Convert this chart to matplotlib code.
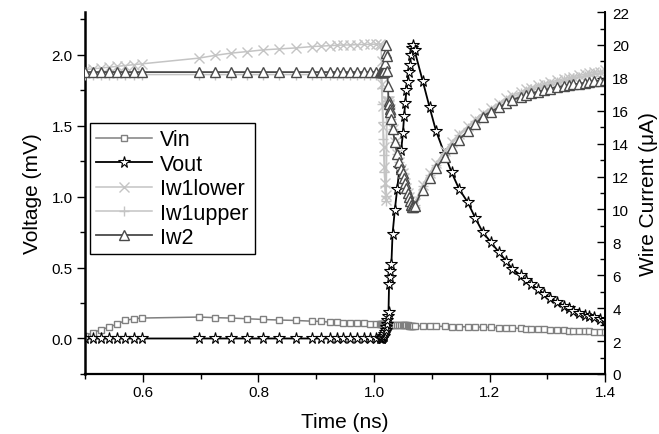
import matplotlib
matplotlib.use("Agg")
import matplotlib.pyplot as plt
from matplotlib.ticker import MultipleLocator, FormatStrFormatter

plt.rcParams['font.family'] = ['Liberation Sans', 'DejaVu Sans']

# time points (ns), shared by all traces
time = [0.500, 0.514, 0.528, 0.542, 0.556, 0.570, 0.584, 0.598,
        0.697, 0.724, 0.752, 0.781, 0.808, 0.836, 0.865, 0.892, 0.909, 0.924,
        0.936, 0.947, 0.959, 0.970, 0.982, 0.993, 1.004, 1.010,
        1.012, 1.013, 1.014, 1.015, 1.016, 1.017, 1.018, 1.019, 1.020, 1.021,
        1.022, 1.023, 1.024, 1.025,
        1.026, 1.027, 1.028, 1.030, 1.032, 1.036, 1.040, 1.044, 1.047, 1.050,
        1.052, 1.054, 1.056, 1.058, 1.060, 1.062, 1.064, 1.066, 1.067, 1.070,
        1.084, 1.096, 1.107, 1.122, 1.134, 1.147, 1.162, 1.175, 1.188, 1.202,
        1.216, 1.228, 1.239, 1.254, 1.263, 1.271, 1.283, 1.294, 1.305, 1.317,
        1.328, 1.338, 1.345, 1.355, 1.365, 1.372, 1.380, 1.390, 1.400]

# voltages (mV)
vin = [0.021, 0.040, 0.063, 0.080, 0.103, 0.127, 0.139, 0.144,
       0.151, 0.147, 0.144, 0.139, 0.134, 0.130, 0.127, 0.122, 0.120, 0.115,
       0.113, 0.111, 0.110, 0.108, 0.106, 0.104, 0.102, 0.100,
       0.100, 0.100, 0.099, 0.099, 0.099, 0.098, 0.098, 0.098, 0.097, 0.097,
       0.097, 0.097, 0.096, 0.096,
       0.096, 0.096, 0.096, 0.095, 0.095, 0.095, 0.094, 0.094, 0.093, 0.093,
       0.093, 0.092, 0.092, 0.092, 0.091, 0.091, 0.091, 0.090, 0.090, 0.090,
       0.088, 0.087, 0.086, 0.085, 0.084, 0.083, 0.082, 0.081, 0.080, 0.078,
       0.076, 0.075, 0.073, 0.071, 0.070, 0.068, 0.066, 0.064, 0.062, 0.060,
       0.058, 0.056, 0.055, 0.053, 0.051, 0.050, 0.049, 0.047, 0.045]

vout = [0.0, 0.0, 0.0, 0.0, 0.0, 0.0, 0.0, 0.0,
        0.0, 0.0, 0.0, 0.0, 0.0, 0.0, 0.0, 0.0, 0.0, 0.0,
        0.0, 0.0, 0.0, 0.0, 0.0, 0.0, 0.0, 0.0,
        0.0, 0.0, 0.005, 0.01, 0.015, 0.02, 0.03, 0.045, 0.06, 0.08,
        0.10, 0.13, 0.16, 0.19,
        0.385, 0.434, 0.479, 0.526, 0.737, 0.908, 1.054, 1.20, 1.33, 1.45,
        1.57, 1.66, 1.75, 1.81, 1.88, 1.93, 2.00, 2.05, 2.07, 2.03,
        1.817, 1.63, 1.465, 1.30, 1.172, 1.054, 0.96, 0.85, 0.749, 0.679,
        0.608, 0.549, 0.491, 0.444, 0.41, 0.385, 0.35, 0.315, 0.285, 0.256,
        0.232, 0.212, 0.197, 0.18, 0.165, 0.158, 0.151, 0.14, 0.127]

# wire currents (uA)
iw1_lower = [18.5, 18.55, 18.6, 18.65, 18.7, 18.75, 18.8, 18.85,
             19.2, 19.36, 19.5, 19.6, 19.7, 19.76, 19.82, 19.9, 19.93, 19.96,
             19.98, 20.0, 20.0, 20.02, 20.03, 20.04, 20.05, 20.05,
             20.0, 19.0, 17.6, 16.3, 15.0, 13.8, 12.6, 11.6, 10.9, 10.6,
             16.6, 16.6, 16.6, 16.6,
             16.4, 16.1, 15.9, 15.5, 14.9, 14.1, 13.4, 12.9, 12.46, 12.2,
             11.9, 11.6, 11.3, 11.0, 10.75, 10.5, 10.3, 10.15, 10.13, 10.4,
             11.5, 12.2, 12.8, 13.55, 14.1, 14.6, 15.05, 15.5, 15.85, 16.15,
             16.45, 16.75, 16.95, 17.15, 17.3, 17.4, 17.55, 17.65, 17.75, 17.85,
             17.95, 18.02, 18.08, 18.15, 18.22, 18.28, 18.33, 18.38, 18.45]

iw1_upper = [18.2, 18.2, 18.2, 18.2, 18.2, 18.2, 18.2, 18.2,
             18.2, 18.2, 18.2, 18.2, 18.2, 18.2, 18.2, 18.2, 18.2, 18.2,
             18.2, 18.2, 18.2, 18.2, 18.2, 18.2, 18.2, 18.2,
             18.2, 17.4, 16.4, 15.3, 14.3, 13.3, 12.3, 11.4, 10.8, 10.5,
             16.6, 16.6, 16.6, 16.6,
             16.4, 16.1, 15.9, 15.5, 14.9, 14.1, 13.4, 12.9, 12.46, 12.2,
             11.9, 11.6, 11.3, 11.0, 10.75, 10.5, 10.3, 10.15, 10.13, 10.3,
             11.4, 12.1, 12.7, 13.45, 14.0, 14.5, 14.95, 15.4, 15.75, 16.05,
             16.35, 16.65, 16.85, 17.05, 17.2, 17.3, 17.45, 17.55, 17.65, 17.75,
             17.85, 17.92, 17.98, 18.05, 18.12, 18.18, 18.23, 18.28, 18.35]

iw2 = [18.35, 18.35, 18.35, 18.35, 18.35, 18.35, 18.35, 18.35,
       18.35, 18.35, 18.35, 18.35, 18.35, 18.35, 18.35, 18.35, 18.35, 18.35,
       18.35, 18.35, 18.35, 18.35, 18.35, 18.35, 18.35, 18.35,
       18.35, 18.35, 18.35, 18.35, 18.35, 18.35, 18.4, 18.9, 19.5, 20.0,
       19.3, 18.4, 17.5, 16.6,
       16.4, 16.1, 15.9, 15.5, 14.9, 14.1, 13.4, 12.9, 12.46, 12.2,
       11.9, 11.6, 11.3, 11.0, 10.75, 10.5, 10.3, 10.15, 10.13, 10.2,
       11.2, 11.9, 12.5, 13.2, 13.75, 14.25, 14.75, 15.2, 15.65, 15.95,
       16.2, 16.45, 16.65, 16.85, 16.95, 17.05, 17.15, 17.25, 17.35, 17.45,
       17.5, 17.55, 17.6, 17.65, 17.7, 17.75, 17.8, 17.83, 17.87]

fig = plt.figure(figsize=(6.59, 4.35), dpi=100)
ax = fig.add_subplot(111)
fig.subplots_adjust(left=0.129, right=0.9185, bottom=0.138, top=0.970)
ax2 = ax.twinx()

l_vin, = ax.plot(time, vin, color='#808080', lw=1.1, marker='s', ms=5,
                 mfc='white', mec='#808080', mew=1.0, label='Vin')
l_vout, = ax.plot(time, vout, color='black', lw=1.3, marker='*', ms=8.5,
                  mfc='white', mec='black', mew=0.8, label='Vout')

l_low, = ax2.plot(time, iw1_lower, color='#c4c4c4', lw=1.1, marker='x', ms=6.5,
                  mew=1.0, label='Iw1lower')
l_up, = ax2.plot(time, iw1_upper, color='#c4c4c4', lw=1.1, marker='+', ms=7.5,
                 mew=1.0, label='Iw1upper')
l_iw2, = ax2.plot(time, iw2, color='#4a4a4a', lw=1.3, marker='^', ms=7.5,
                  mfc='white', mec='#4a4a4a', mew=1.0, label='Iw2')

ax.set_xlim(0.5, 1.4)
ax.set_ylim(-0.25, 2.3)
ax2.set_ylim(0, 22)

ax.xaxis.set_major_locator(MultipleLocator(0.2))
ax.xaxis.set_minor_locator(MultipleLocator(0.1))
ax.xaxis.set_major_formatter(FormatStrFormatter('%.1f'))
ax.yaxis.set_major_locator(MultipleLocator(0.5))
ax.yaxis.set_minor_locator(MultipleLocator(0.25))
ax.yaxis.set_major_formatter(FormatStrFormatter('%.1f'))
ax2.yaxis.set_major_locator(MultipleLocator(2))
ax2.yaxis.set_minor_locator(MultipleLocator(1))

ax.tick_params(axis='both', which='major', direction='out', length=6, width=1,
               labelsize=11, pad=3)
ax.tick_params(axis='both', which='minor', direction='out', length=3.5, width=1)
ax.tick_params(axis='x', which='major', pad=2)
ax2.tick_params(axis='y', which='major', direction='in', length=6, width=1,
                labelsize=11, pad=5)
ax2.tick_params(axis='y', which='minor', direction='in', length=3.5, width=1)

for a in (ax, ax2):
    a.spines['top'].set_visible(False)
ax.spines['left'].set_linewidth(1.8)
ax.spines['bottom'].set_linewidth(1.6)
ax2.spines['right'].set_linewidth(1.4)
ax2.spines['left'].set_visible(False)
ax2.spines['bottom'].set_visible(False)

ax.set_xlabel('Time (ns)', fontsize=15, labelpad=9)
ax.set_ylabel('Voltage (mV)', fontsize=15, labelpad=7)
ax2.set_ylabel('Wire Current (\u03bcA)', fontsize=15, labelpad=7)

leg = ax2.legend(handles=[l_vin, l_vout, l_low, l_up, l_iw2],
                 loc='upper left', bbox_to_anchor=(0.0096, 0.694),
                 borderaxespad=0, fontsize=15.5, handlelength=2.6,
                 handletextpad=0.35, labelspacing=0.16, borderpad=0.3,
                 fancybox=False, framealpha=1, edgecolor='black')
leg.get_frame().set_linewidth(1.0)

fig.savefig('out.png', dpi=100)
